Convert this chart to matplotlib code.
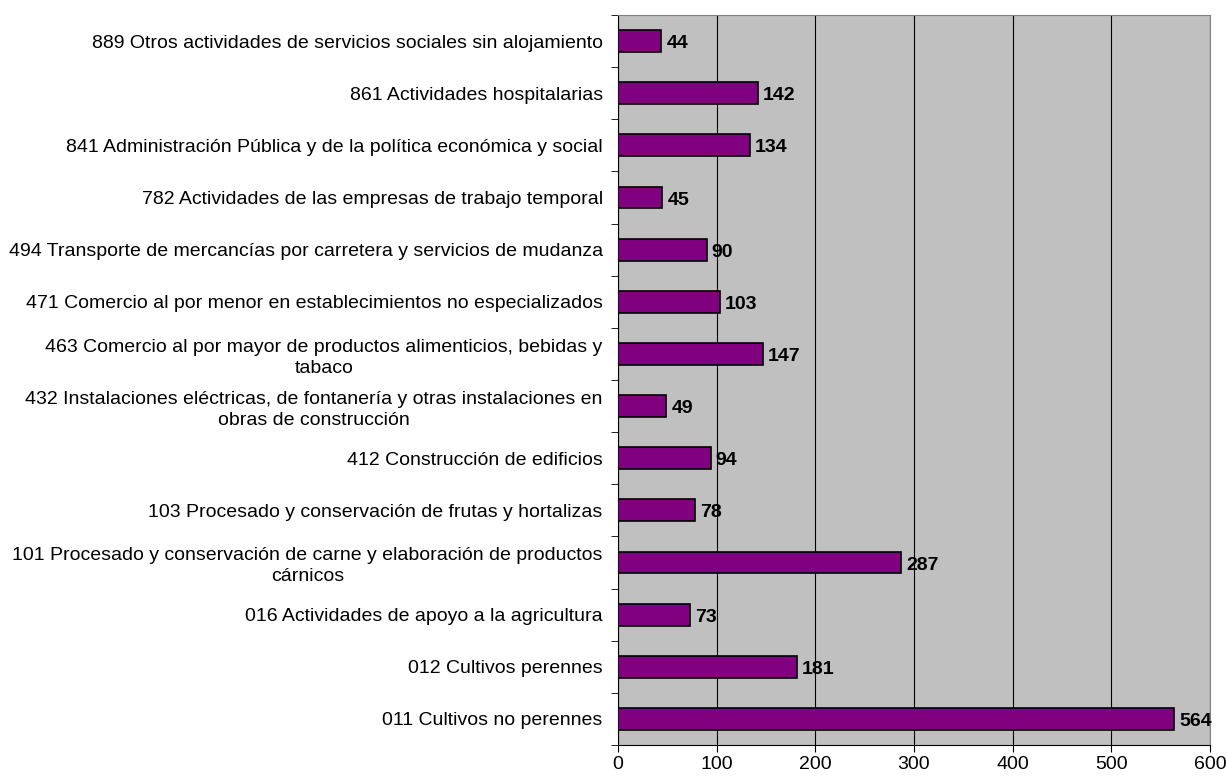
import matplotlib.pyplot as plt
import numpy as np

plt.rcParams['font.family'] = ['Liberation Sans', 'DejaVu Sans']

categories = [
    "011 Cultivos no perennes",
    "012 Cultivos perennes",
    "016 Actividades de apoyo a la agricultura",
    "101 Procesado y conservación de carne y elaboración de productos\ncárnicos",
    "103 Procesado y conservación de frutas y hortalizas",
    "412 Construcción de edificios",
    "432 Instalaciones eléctricas, de fontanería y otras instalaciones en\nobras de construcción",
    "463 Comercio al por mayor de productos alimenticios, bebidas y\ntabaco",
    "471 Comercio al por menor en establecimientos no especializados",
    "494 Transporte de mercancías por carretera y servicios de mudanza",
    "782 Actividades de las empresas de trabajo temporal",
    "841 Administración Pública y de la política económica y social",
    "861 Actividades hospitalarias",
    "889 Otros actividades de servicios sociales sin alojamiento",
]
values = [564, 181, 73, 287, 78, 94, 49, 147, 103, 90, 45, 134, 142, 44]
xticks = [0, 100, 200, 300, 400, 500, 600]

fs = 14

fig = plt.figure(figsize=(12.26, 7.82), dpi=100)
ax = fig.add_axes([618 / 1226, 1 - 745 / 782, 592 / 1226, 730 / 782])
ax.set_facecolor('#C0C0C0')

y = np.arange(len(categories))
ax.barh(y, values, height=0.42, color='#800080', edgecolor='black', linewidth=1.2, zorder=3)
for yi, v in zip(y, values):
    ax.text(v + 5, yi - 0.05, str(v), va='center', ha='left', fontsize=fs,
            fontweight='bold', zorder=4)

ax.set_xlim(0, 600)
ax.set_ylim(-0.5, len(categories) - 0.5)
ax.set_xticks(xticks)
ax.set_xticklabels([str(t) for t in xticks], fontsize=fs)
ax.xaxis.grid(True, color='black', linewidth=0.8, zorder=1)

ax.set_yticks(y)
ax.set_yticklabels(categories, fontsize=fs, ha='right', multialignment='center',
                   linespacing=1.3)
ax.tick_params(axis='y', length=0, pad=11)
ax.set_yticks(np.arange(-0.5, len(categories)), minor=True)
ax.tick_params(axis='y', which='minor', length=5, direction='out')
ax.tick_params(axis='x', length=5, direction='out', pad=3)

for s in ['top', 'right']:
    ax.spines[s].set_color('#808080')
for s in ['left', 'bottom']:
    ax.spines[s].set_color('black')

fig.savefig('out.png', dpi=100)
